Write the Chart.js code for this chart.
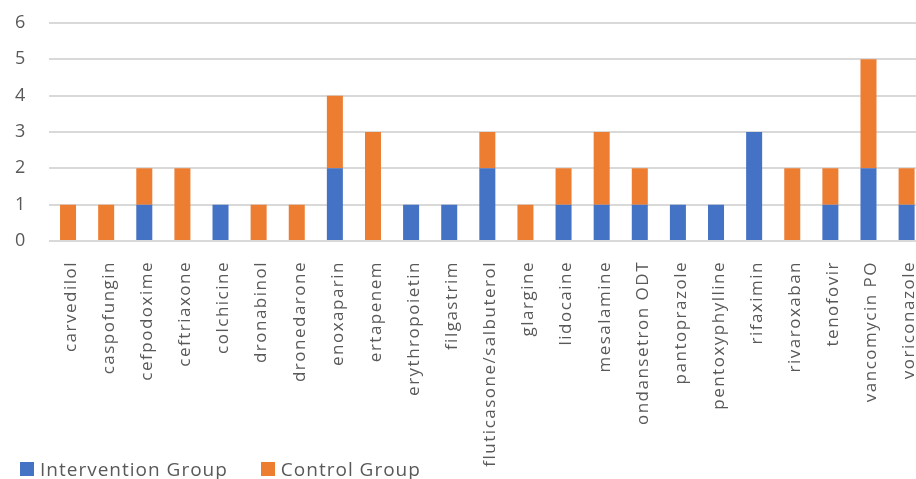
<!DOCTYPE html>
<html>
<head>
<meta charset="utf-8">
<script src="https://cdn.jsdelivr.net/npm/chart.js@4"></script>
<style>
  body { margin: 0; background: #fff; overflow: hidden; }
  #wrap { position: relative; width: 939px; height: 479px; }
  #legend { position: absolute; left: 20px; top: 456px; display: flex; font-family: "Open Sans", sans-serif; font-size: 19px; letter-spacing: 1px; color: #595959; }
  #legend span.item { display: flex; align-items: center; margin-right: 33px; }
  #legend span.box { width: 14px; height: 14px; margin-right: 6px; display: inline-block; }
</style>
</head>
<body>
<div id="wrap">
  <canvas id="chart" width="939" height="479"></canvas>
  <div id="legend"></div>
</div>
<script>
// Data
const drugs = ['carvedilol', 'caspofungin', 'cefpodoxime', 'ceftriaxone', 'colchicine', 'dronabinol',
  'dronedarone', 'enoxaparin', 'ertapenem', 'erythropoietin', 'filgastrim', 'fluticasone/salbuterol',
  'glargine', 'lidocaine', 'mesalamine', 'ondansetron ODT', 'pantoprazole', 'pentoxyphylline',
  'rifaximin', 'rivaroxaban', 'tenofovir', 'vancomycin PO', 'voriconazole'];
const intervention = [0, 0, 1, 0, 1, 0, 0, 2, 0, 1, 1, 2, 0, 1, 1, 1, 1, 1, 3, 0, 1, 2, 1];
const control = [1, 1, 1, 2, 0, 1, 1, 2, 3, 0, 0, 1, 1, 1, 2, 1, 0, 0, 0, 2, 1, 3, 1];
const yTicks = [0, 1, 2, 3, 4, 5, 6];

const seriesNames = ['Intervention Group', 'Control Group'];
const seriesColors = ['#4472C4', '#ED7D31'];

const textColor = '#595959';

// Excel-like wide letter spacing (canvas state gets reset on resize, so set it each time)
const spacing = {
  id: 'spacing',
  beforeLayout: c => { c.ctx.letterSpacing = '1.5px'; },
  beforeDraw: c => { c.ctx.letterSpacing = '1.5px'; }
};

const chart = new Chart(document.getElementById('chart'), {
  type: 'bar',
  data: {
    labels: drugs,
    datasets: [
      { label: seriesNames[0], data: intervention, backgroundColor: seriesColors[0] },
      { label: seriesNames[1], data: control, backgroundColor: seriesColors[1] }
    ]
  },
  options: {
    responsive: false,
    animation: false,
    layout: { padding: { top: 23, right: 0, left: 15, bottom: 0 } },
    datasets: { bar: { barPercentage: 0.42, categoryPercentage: 1 } },
    plugins: { legend: { display: false }, tooltip: { enabled: false } },
    scales: {
      x: {
        stacked: true,
        grid: { display: false },
        border: { display: false },
        ticks: {
          color: textColor,
          font: { family: 'Open Sans', size: 17 },
          minRotation: 90, maxRotation: 90,
          padding: 12,
          labelOffset: 3,
          autoSkip: false
        },
        afterFit: s => { s.height = 238; }
      },
      y: {
        stacked: true,
        min: 0, max: 6,
        afterBuildTicks: s => { s.ticks = yTicks.map(v => ({ value: v })); },
        grid: { color: '#d9d9d9', lineWidth: 2, drawTicks: false },
        border: { display: false },
        ticks: {
          color: textColor,
          font: { family: 'Open Sans', size: 18, lineHeight: 1 },
          padding: 0,
          crossAlign: 'far'
        },
        afterFit: s => { s.width = 34; }
      }
    }
  },
  plugins: [spacing]
});

// Legend
const legendEl = document.getElementById('legend');
seriesNames.forEach((name, i) => {
  const item = document.createElement('span');
  item.className = 'item';
  item.innerHTML = `<span class="box" style="background:${seriesColors[i]}"></span>${name}`;
  legendEl.appendChild(item);
});
</script>
</body>
</html>
